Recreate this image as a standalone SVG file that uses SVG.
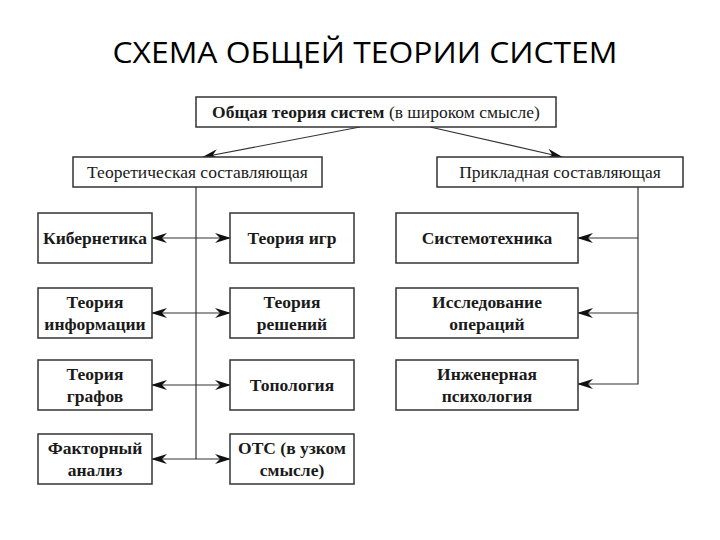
<svg xmlns="http://www.w3.org/2000/svg" width="720" height="540" viewBox="0 0 720 540">
<defs>
<style>
.box{fill:#fff;stroke:#333;stroke-width:1.5}
.t{font-family:"Liberation Serif","DejaVu Serif",serif;font-size:17.5px;fill:#1a1a1a;text-anchor:middle}
.b{font-weight:bold}
.ln{stroke:#333;stroke-width:1.2;fill:none}
.title{font-family:"Open Sans","Liberation Sans",sans-serif;font-size:29px;font-weight:500;fill:#000;text-anchor:middle}
</style>
<marker id="ah" markerWidth="16" markerHeight="10" refX="15" refY="5" orient="auto-start-reverse" markerUnits="userSpaceOnUse">
<path d="M0,0 L16,5 L0,10 L5,5 Z" fill="#111"/>
</marker>
</defs>
<rect width="720" height="540" fill="#fff"/>
<text class="title" x="365" y="63" textLength="505" lengthAdjust="spacingAndGlyphs">СХЕМА ОБЩЕЙ ТЕОРИИ СИСТЕМ</text>

<g id="connectors">
<line class="ln" x1="360" y1="127" x2="203" y2="157" marker-end="url(#ah)"/>
<line class="ln" x1="430" y1="127" x2="562" y2="157" marker-end="url(#ah)"/>
<line class="ln" x1="196" y1="187" x2="196" y2="459"/>
<line class="ln" x1="152" y1="238" x2="230" y2="238" marker-start="url(#ah)" marker-end="url(#ah)"/>
<line class="ln" x1="152" y1="313" x2="230" y2="313" marker-start="url(#ah)" marker-end="url(#ah)"/>
<line class="ln" x1="152" y1="385" x2="230" y2="385" marker-start="url(#ah)" marker-end="url(#ah)"/>
<line class="ln" x1="152" y1="459" x2="230" y2="459" marker-start="url(#ah)" marker-end="url(#ah)"/>
<polyline class="ln" points="638,187 638,384 578,384" marker-end="url(#ah)"/>
<line class="ln" x1="638" y1="238" x2="578" y2="238" marker-end="url(#ah)"/>
<line class="ln" x1="638" y1="313" x2="578" y2="313" marker-end="url(#ah)"/>
</g>

<g id="n-general"><rect class="box" x="196" y="97" width="360" height="30"/><text class="t" x="376" y="118"><tspan class="b">Общая теория систем</tspan> (в широком смысле)</text></g>
<g id="n-theor"><rect class="box" x="73" y="157" width="249" height="30"/><text class="t" x="197.5" y="178">Теоретическая составляющая</text></g>
<g id="n-applied"><rect class="box" x="437" y="157" width="246" height="30"/><text class="t" x="560" y="178">Прикладная составляющая</text></g>

<g id="n-cyber"><rect class="box" x="38" y="213" width="114" height="50"/><text class="t b" x="95" y="244">Кибернетика</text></g>
<g id="n-info"><rect class="box" x="38" y="288" width="114" height="50"/><text class="t b" x="95" y="308">Теория</text><text class="t b" x="95" y="330">информации</text></g>
<g id="n-graphs"><rect class="box" x="38" y="360" width="114" height="50"/><text class="t b" x="95" y="380">Теория</text><text class="t b" x="95" y="402">графов</text></g>
<g id="n-factor"><rect class="box" x="38" y="434" width="114" height="50"/><text class="t b" x="95" y="454">Факторный</text><text class="t b" x="95" y="476">анализ</text></g>

<g id="n-games"><rect class="box" x="230" y="213" width="124" height="50"/><text class="t b" x="292" y="244">Теория игр</text></g>
<g id="n-decisions"><rect class="box" x="230" y="288" width="124" height="50"/><text class="t b" x="292" y="308">Теория</text><text class="t b" x="292" y="330">решений</text></g>
<g id="n-topology"><rect class="box" x="230" y="360" width="124" height="50"/><text class="t b" x="292" y="391">Топология</text></g>
<g id="n-ots"><rect class="box" x="230" y="434" width="124" height="50"/><text class="t b" x="292" y="454">ОТС (в узком</text><text class="t b" x="292" y="476">смысле)</text></g>

<g id="n-systech"><rect class="box" x="396" y="213" width="182" height="50"/><text class="t b" x="487" y="244">Системотехника</text></g>
<g id="n-opres"><rect class="box" x="396" y="288" width="182" height="50"/><text class="t b" x="487" y="308">Исследование</text><text class="t b" x="487" y="330">операций</text></g>
<g id="n-engpsy"><rect class="box" x="396" y="360" width="182" height="50"/><text class="t b" x="487" y="380">Инженерная</text><text class="t b" x="487" y="402">психология</text></g>
</svg>
